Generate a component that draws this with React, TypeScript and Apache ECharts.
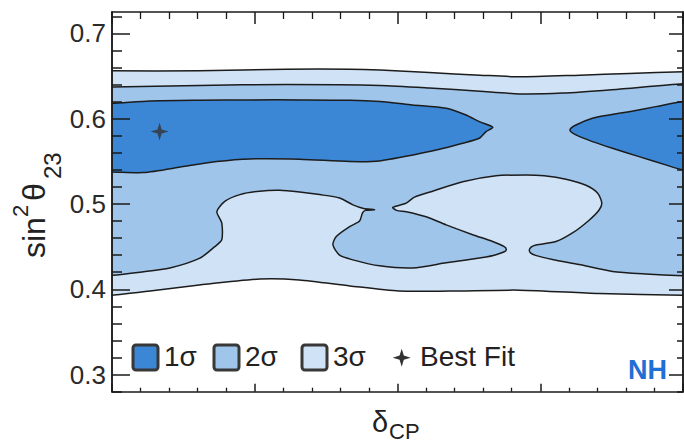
import React, { useEffect, useRef } from "react";
import * as echarts from "echarts";

const FONT = '"Liberation Sans", Arial, Helvetica, sans-serif';

// Contour edges, points given as [δCP (deg), sin²θ23]
const sigma3Upper = [
  [-180, 0.656], [-125, 0.656], [-70, 0.658], [-30, 0.658], [-11, 0.657], [20, 0.654],
  [52, 0.651], [77, 0.649], [115, 0.651], [146, 0.653], [180, 0.655],
];
const sigma3Lower = [
  [-180, 0.393], [-156, 0.398], [-125, 0.405], [-87, 0.412], [-62, 0.411], [-30, 0.404],
  [1, 0.398], [33, 0.398], [77, 0.399], [127, 0.395], [180, 0.393],
];
const sigma2Upper = [
  [-180, 0.637], [-125, 0.639], [-70, 0.64], [-11, 0.639], [20, 0.636], [52, 0.632],
  [77, 0.629], [104, 0.63], [135, 0.634], [180, 0.641],
];
// lower edge of the 2σ region, traced from δCP = 180 back to -180
const sigma2Lower = [
  [180, 0.416], [156.5, 0.418], [135.5, 0.421], [114.5, 0.429], [97.7, 0.435], [87.5, 0.4395],
  [84, 0.4425], [83.1, 0.446], [84.2, 0.4495], [87.3, 0.452], [99.9, 0.456], [110.3, 0.466],
  [120.8, 0.481], [127.1, 0.493],
  [128.8, 0.501], [126.1, 0.513], [118.8, 0.522], [106.2, 0.529], [92.5, 0.533], [81, 0.534],
  [62.1, 0.533], [41.1, 0.526], [22.2, 0.515], [10.7, 0.508], [5.5, 0.501], [-3, 0.496],
  [-0.6, 0.4925], [5.5, 0.491], [18.1, 0.485], [30.7, 0.4755], [47.4, 0.464], [60, 0.456],
  [67.3, 0.45], [68.6, 0.4468], [67.3, 0.444], [61, 0.44], [55.8, 0.438], [30.7, 0.431], [9.6, 0.425],
  [-11.3, 0.4275], [-28.1, 0.4345], [-36.5, 0.44], [-40.7, 0.452], [-38.6, 0.462],
  [-30.2, 0.4735], [-23.9, 0.48], [-22, 0.49], [-20.1, 0.4925], [-14.5, 0.4933],
  [-21.4, 0.4948], [-28.1, 0.499], [-36.5, 0.507], [-49.1, 0.511], [-61.7, 0.514],
  [-74.3, 0.516], [-86.9, 0.515], [-99.4, 0.511], [-108.9, 0.503], [-113.9, 0.491],
  [-110.8, 0.478], [-110.8, 0.458], [-115.2, 0.45], [-124.6, 0.4365], [-143.5, 0.425],
  [-162.4, 0.42], [-180, 0.4164],
];
const sigma1Left = [
  [-180, 0.618], [-156, 0.6207], [-125, 0.6216], [-93, 0.622], [-62, 0.622], [-30, 0.6216],
  [-11, 0.62], [9.4, 0.6161], [30.7, 0.6122], [43.2, 0.6043], [51.6, 0.5965], [60, 0.59],
  [55.8, 0.5848], [51.6, 0.577], [41.1, 0.5712], [20.1, 0.5614], [-11.3, 0.5505],
  [-30.2, 0.5497], [-61.7, 0.5525], [-93.1, 0.5528], [-114.1, 0.5497], [-135.1, 0.5438],
  [-160.3, 0.5368], [-180, 0.5376],
];
const sigma1Right = [
  [180, 0.62], [162.8, 0.6141], [146, 0.6082], [133.4, 0.6043], [122.9, 0.6005],
  [112.5, 0.5926], [108.7, 0.5868], [112.5, 0.5809], [122.9, 0.5731], [135.5, 0.5653],
  [152.3, 0.5555], [169.1, 0.5458], [180, 0.54],
];
const bestFit = [[-150, 0.585]];

const yMajorTicks = [0.3, 0.4, 0.5, 0.6, 0.7];
const yMinorTicks = [
  0.28, 0.32, 0.34, 0.36, 0.38, 0.42, 0.44, 0.46, 0.48, 0.52, 0.54, 0.56, 0.58, 0.62,
  0.64, 0.66, 0.68, 0.72,
];

const legendItems = ["1σ", "2σ", "3σ"];
const C1 = "#3b87d5";
const C2 = "#9fc5ea";
const C3 = "#d0e3f6";
const EDGE = "#1c1c1c";
const AXIS = "#1a1a1a";
const DELTA_EDGE = 180;

const STAR =
  "path://M0,-10 L2.3,-2.3 L10,0 L2.3,2.3 L0,10 L-2.3,2.3 L-10,0 L-2.3,-2.3 Z";

// Points lying on the δCP = ±180 border get a short horizontal run outside the
// grid, so the smoothed outline has no rounded corner inside the clipped area.
function ringToPixels(ring: number[][], api: any) {
  const px = ring.map((p) => api.coord(p));
  const n = ring.length;
  const out: number[][] = [];
  for (let i = 0; i < n; i++) {
    const d = ring[i][0];
    const pt = px[i];
    if (Math.abs(d) === DELTA_EDGE) {
      const ext = [pt[0] + (d > 0 ? 14 : -14), pt[1]];
      const next = ring[(i + 1) % n][0];
      const prev = ring[(i - 1 + n) % n][0];
      if (next === d) out.push(pt, ext);
      else if (prev === d) out.push(ext, pt);
      else out.push(pt);
    } else {
      out.push(pt);
    }
  }
  return out;
}

function contourSeries(name: string, rings: number[][][], color: string, z: number) {
  return {
    type: "custom",
    name,
    coordinateSystem: "cartesian2d",
    xAxisIndex: 0,
    yAxisIndex: 0,
    z,
    silent: true,
    clip: true,
    data: rings.map((r, i) => [r[0][0], r[0][1], i]),
    encode: { x: 0, y: 1 },
    renderItem: (params: any, api: any) => {
      const ring = rings[params.dataIndex];
      return {
        type: "polygon",
        shape: { points: ringToPixels(ring, api), smooth: 0.25 },
        style: { fill: color, stroke: EDGE, lineWidth: 1.5 },
      };
    },
  };
}

function xAxisDef(position: string, major: number, minor: number) {
  return {
    type: "value",
    position,
    min: -180,
    max: 180,
    interval: 90,
    z: 10,
    axisLine: { show: true, onZero: false, lineStyle: { color: AXIS, width: 1.5 } },
    axisTick: { show: true, inside: true, length: major, lineStyle: { color: AXIS, width: 1.5 } },
    minorTick: { show: true, splitNumber: 5, length: minor, lineStyle: { color: AXIS, width: 1.3 } },
    axisLabel: { show: false },
    splitLine: { show: false },
    minorSplitLine: { show: false },
  };
}

function yAxisDef(position: string, ticks: number[], len: number, labels: boolean) {
  return {
    type: "value",
    position,
    min: 0.28,
    max: 0.725,
    z: 10,
    axisLine: { show: true, onZero: false, lineStyle: { color: AXIS, width: 1.5 } },
    axisTick: {
      show: true,
      inside: true,
      length: len,
      customValues: ticks,
      lineStyle: { color: AXIS, width: 1.5 },
    },
    axisLabel: labels
      ? {
          show: true,
          customValues: ticks,
          formatter: (v: number) => v.toFixed(1),
          fontSize: 26,
          fontFamily: FONT,
          color: "#2a2a2a",
          margin: 6,
        }
      : { show: false },
    splitLine: { show: false },
  };
}

function label(text: string, x: number, y: number, font: string, fill = "#222") {
  return {
    type: "text",
    x,
    y,
    z: 20,
    style: {
      text,
      font,
      fill,
      align: "left",
      verticalAlign: "middle",
      textAlign: "left",
      textVerticalAlign: "middle",
    },
  };
}

export default function App() {
  const ref = useRef<HTMLDivElement>(null);

  useEffect(() => {
    if (!ref.current) return;
    const chart = echarts.init(ref.current, undefined, { renderer: "svg" });

    const sigma3Ring = [...sigma3Upper, ...[...sigma3Lower].reverse()];
    const sigma2Ring = [...sigma2Upper, ...sigma2Lower];

    const legendX = [133, 214, 302];
    const legendGraphics: any[] = [];
    legendItems.forEach((text, i) => {
      legendGraphics.push({
        type: "rect",
        shape: { x: legendX[i], y: 345, width: 25, height: 25, r: 3 },
        style: { fill: [C1, C2, C3][i], stroke: "#383838", lineWidth: 3 },
        z: 20,
      });
      legendGraphics.push(label(text, legendX[i] + 31, 356, `28px ${FONT}`));
    });

    chart.setOption({
      animation: false,
      backgroundColor: "#ffffff",
      grid: { left: 112, top: 12, width: 571, height: 379.7, containLabel: false },
      xAxis: [xAxisDef("bottom", 8, 4), xAxisDef("top", 12, 7)],
      yAxis: [
        yAxisDef("left", yMajorTicks, 18, true),
        yAxisDef("left", yMinorTicks, 10, false),
        yAxisDef("right", yMajorTicks, 14, false),
        yAxisDef("right", yMinorTicks, 6, false),
      ],
      series: [
        contourSeries("3σ", [sigma3Ring], C3, 2),
        contourSeries("2σ", [sigma2Ring], C2, 3),
        contourSeries("1σ", [sigma1Left, sigma1Right], C1, 4),
        {
          type: "scatter",
          name: "Best Fit",
          xAxisIndex: 0,
          yAxisIndex: 0,
          z: 5,
          data: bestFit,
          symbol: STAR,
          symbolSize: 18,
          itemStyle: { color: "#333333" },
          silent: true,
        },
      ],
      graphic: [
        ...legendGraphics,
        {
          type: "polygon",
          shape: {
            points: [
              [401.7, 348.7], [403.8, 355.6], [410.7, 357.7], [403.8, 359.8],
              [401.7, 366.7], [399.6, 359.8], [392.7, 357.7], [399.6, 355.6],
            ],
          },
          style: { fill: "#333333" },
          z: 20,
        },
        label("Best Fit", 420, 356, `28px ${FONT}`),
        label("NH", 628, 370, `bold 27px ${FONT}`, "#1f6fd6"),
        // x-axis title: δ_CP
        label("δ", 372, 422, `29px ${FONT}`),
        label("CP", 389, 431.5, `22px ${FONT}`),
        // y-axis title: sin²θ_23, reading upwards
        {
          type: "group",
          x: 34,
          y: 258,
          rotation: Math.PI / 2,
          children: [
            label("sin", 0, 0, `32px ${FONT}`),
            label("2", 41, -13.6, `22px ${FONT}`),
            label("θ", 57, 0, `32px ${FONT}`),
            label("23", 79, 18.7, `24px ${FONT}`),
          ],
        },
      ],
    });

    return () => chart.dispose();
  }, []);

  return (
    <div
      ref={ref}
      style={{ position: "fixed", left: 0, top: 0, width: 684, height: 445, background: "#fff" }}
    />
  );
}
